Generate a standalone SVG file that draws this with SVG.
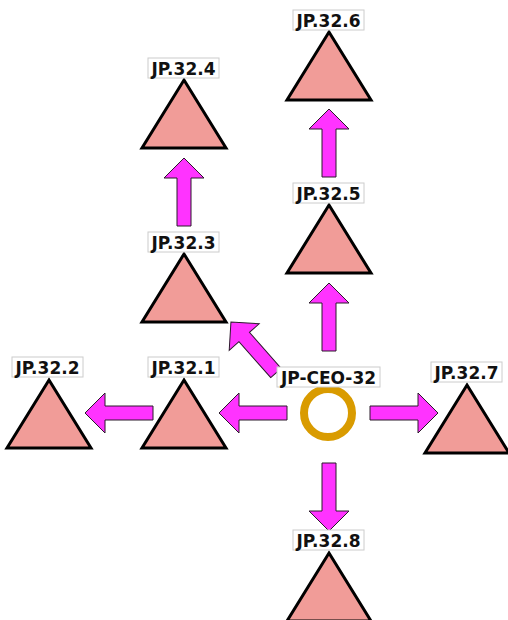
<svg xmlns="http://www.w3.org/2000/svg" xmlns:xlink="http://www.w3.org/1999/xlink" width="508" height="620" viewBox="0 0 508 620">
<style>
.tri{fill:#f19c98;stroke:#000;stroke-width:3;stroke-linejoin:miter}
.lb{fill:#fff;stroke:#cccccc;stroke-width:1}
.tx{font-family:"DejaVu Sans","Liberation Sans",sans-serif;font-weight:bold;font-size:17px;fill:#111;text-anchor:middle}
.arr{fill:#ff33ff;stroke:#2a1a2a;stroke-width:1}
</style>
<defs>
<path id="a" d="M0,-7 H48 V-20 L68,0 L48,20 V7 H0 Z"/>
</defs>
<g id="connectors">
<use xlink:href="#a" class="arr" transform="translate(287,413) rotate(180)"/>
<use xlink:href="#a" class="arr" transform="translate(153,413) rotate(180)"/>
<use xlink:href="#a" class="arr" transform="translate(370,413)"/>
<use xlink:href="#a" class="arr" transform="translate(329,463) rotate(90)"/>
<use xlink:href="#a" class="arr" transform="translate(329,351) rotate(-90)"/>
<use xlink:href="#a" class="arr" transform="translate(329,177) rotate(-90)"/>
<use xlink:href="#a" class="arr" transform="translate(184,226) rotate(-90)"/>
<use xlink:href="#a" class="arr" transform="translate(276,373) rotate(-131.5)"/>
</g>
<g id="JP-CEO-32">
<circle cx="328" cy="413" r="24" fill="none" stroke="#d99b00" stroke-width="8"/>
<rect class="lb" x="277" y="367" width="103" height="20"/>
<text class="tx" x="328.5" y="383.5">JP-CEO-32</text>
</g>
<g id="JP.32.1">
<polygon class="tri" points="184,380 226,448 142,448"/>
<rect class="lb" x="148" y="357" width="71" height="20"/>
<text class="tx" x="183.5" y="373.5">JP.32.1</text>
</g>
<g id="JP.32.2">
<polygon class="tri" points="49,380 91,448 7,448"/>
<rect class="lb" x="12" y="357" width="71" height="20"/>
<text class="tx" x="47.5" y="373.5">JP.32.2</text>
</g>
<g id="JP.32.3">
<polygon class="tri" points="184,254 226,322 142,322"/>
<rect class="lb" x="148" y="232" width="71" height="20"/>
<text class="tx" x="183.5" y="248.5">JP.32.3</text>
</g>
<g id="JP.32.4">
<polygon class="tri" points="184,80 226,148 142,148"/>
<rect class="lb" x="148" y="58" width="71" height="20"/>
<text class="tx" x="183.5" y="74.5">JP.32.4</text>
</g>
<g id="JP.32.5">
<polygon class="tri" points="329,205 371,273 287,273"/>
<rect class="lb" x="293" y="183" width="71" height="20"/>
<text class="tx" x="328.5" y="199.5">JP.32.5</text>
</g>
<g id="JP.32.6">
<polygon class="tri" points="329,32 371,100 287,100"/>
<rect class="lb" x="293" y="10" width="71" height="20"/>
<text class="tx" x="328.5" y="26.5">JP.32.6</text>
</g>
<g id="JP.32.7">
<polygon class="tri" points="467,385 509,453 425,453"/>
<rect class="lb" x="431" y="362" width="71" height="20"/>
<text class="tx" x="466.5" y="378.5">JP.32.7</text>
</g>
<g id="JP.32.8">
<polygon class="tri" points="329,553 371,621 287,621"/>
<rect class="lb" x="293" y="530" width="71" height="20"/>
<text class="tx" x="328.5" y="546.5">JP.32.8</text>
</g>
</svg>
